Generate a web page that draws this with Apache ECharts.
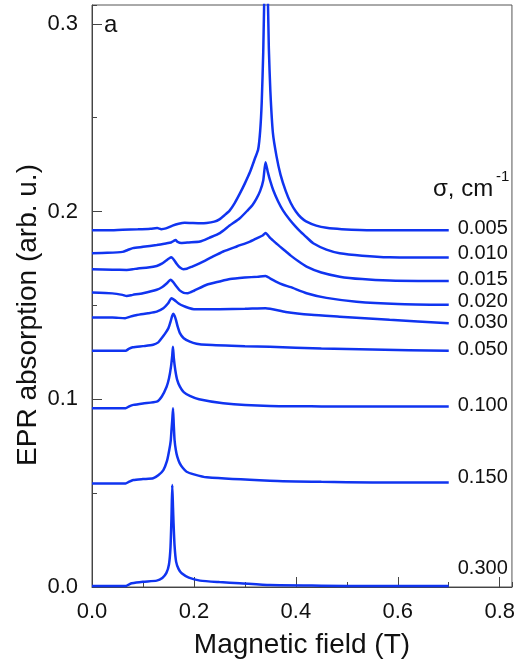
<!DOCTYPE html>
<html>
<head>
<meta charset="utf-8">
<script src="https://cdn.jsdelivr.net/npm/echarts@6/dist/echarts.min.js"></script>
<style>
html,body{margin:0;padding:0;background:#fff;}
#chart{width:518px;height:670px;}
</style>
</head>
<body>
<div id="chart"></div>
<script>
// sigma values (cm^-1) used as curve labels
const sigmaLabels = ['0.005','0.010','0.015','0.020','0.030','0.050','0.100','0.150','0.300'];

// Magnetic field (T) and EPR absorption (arb. u.) for each sigma
const field005 = [0,0.03,0.06,0.09,0.115,0.128,0.136,0.145,0.158,0.17,0.182,0.195,0.21,0.225,0.24,0.25,0.26,0.27,0.28,0.29,0.30,0.31,0.32,0.326,0.330,0.333,0.336,0.339,0.341,0.344,0.347,0.350,0.355,0.362,0.370,0.380,0.390,0.400,0.410,0.420,0.440,0.460,0.490,0.55,0.60,0.65,0.70];
const abs005   = [0.190,0.190,0.1903,0.1905,0.1908,0.1912,0.1906,0.191,0.1925,0.1935,0.194,0.1939,0.1938,0.1939,0.1946,0.1958,0.198,0.2005,0.2045,0.2095,0.215,0.221,0.2285,0.233,0.243,0.258,0.285,0.33,0.37,0.33,0.287,0.264,0.2417,0.2295,0.2195,0.211,0.2045,0.200,0.1968,0.1948,0.1925,0.1913,0.1906,0.190,0.190,0.190,0.190];

const field010 = [0,0.03,0.06,0.07,0.08,0.10,0.127,0.145,0.155,0.160,0.164,0.168,0.175,0.19,0.212,0.23,0.251,0.27,0.29,0.305,0.315,0.323,0.330,0.336,0.3405,0.345,0.350,0.3555,0.365,0.375,0.388,0.40,0.41,0.422,0.434,0.46,0.486,0.53,0.584,0.64,0.70];
const abs010   = [0.1778,0.178,0.1785,0.1795,0.1805,0.1812,0.1822,0.183,0.1835,0.1843,0.1848,0.1838,0.1832,0.1835,0.184,0.186,0.1885,0.1925,0.1964,0.2005,0.2035,0.207,0.211,0.2165,0.2263,0.221,0.216,0.2115,0.2055,0.2005,0.1956,0.1918,0.189,0.186,0.1831,0.1797,0.1778,0.1765,0.1756,0.1755,0.1755];

const field015 = [0,0.04,0.068,0.08,0.09,0.11,0.127,0.137,0.145,0.151,0.156,0.161,0.166,0.172,0.179,0.186,0.195,0.212,0.235,0.2575,0.285,0.31,0.325,0.335,0.3405,0.35,0.36,0.369,0.38,0.39,0.405,0.421,0.45,0.486,0.53,0.584,0.64,0.70];
const abs015   = [0.1693,0.169,0.1689,0.1692,0.1697,0.1702,0.171,0.1722,0.1738,0.175,0.1756,0.1742,0.1722,0.1703,0.1693,0.1695,0.1705,0.1725,0.1757,0.1787,0.1815,0.184,0.186,0.1872,0.1885,0.1858,0.1834,0.1813,0.1788,0.1765,0.1735,0.1707,0.1675,0.1653,0.164,0.1632,0.163,0.163];

const field020 = [0,0.04,0.06,0.068,0.08,0.10,0.127,0.138,0.147,0.154,0.159,0.165,0.172,0.18,0.188,0.20,0.225,0.25,0.271,0.30,0.325,0.3405,0.35,0.36,0.375,0.39,0.421,0.46,0.519,0.60,0.70];
const abs020   = [0.1568,0.1564,0.1556,0.155,0.1556,0.1565,0.1583,0.1598,0.1618,0.1636,0.1625,0.1603,0.158,0.1567,0.1565,0.1578,0.161,0.1627,0.164,0.1648,0.1653,0.1657,0.1643,0.1628,0.161,0.1597,0.1565,0.154,0.152,0.1508,0.1503];

const field030 = [0,0.04,0.065,0.075,0.088,0.11,0.127,0.14,0.149,0.156,0.162,0.17,0.179,0.19,0.2,0.25,0.30,0.3405,0.38,0.43,0.486,0.584,0.70];
const abs030   = [0.1435,0.1435,0.1432,0.144,0.1449,0.1458,0.1467,0.1485,0.151,0.1538,0.1528,0.151,0.1497,0.1486,0.148,0.148,0.1482,0.1485,0.1465,0.145,0.144,0.1423,0.1405];

const field050 = [0,0.04,0.066,0.072,0.08,0.10,0.12,0.13,0.1366,0.143,0.15,0.154,0.1575,0.1595,0.162,0.1647,0.168,0.1725,0.18,0.192,0.205,0.225,0.30,0.349,0.45,0.55,0.70];
const abs050   = [0.1258,0.1258,0.1258,0.1268,0.1277,0.1283,0.129,0.1303,0.1325,0.1348,0.1379,0.1412,0.1445,0.1455,0.1445,0.1423,0.1388,0.1352,0.1325,0.1307,0.1296,0.129,0.1283,0.128,0.127,0.1265,0.1258];

const field100 = [0,0.04,0.066,0.073,0.081,0.10,0.127,0.137,0.1464,0.151,0.155,0.1575,0.1588,0.1605,0.1634,0.167,0.1725,0.18,0.192,0.21,0.2575,0.349,0.45,0.55,0.70];
const abs100   = [0.0952,0.0952,0.0952,0.0962,0.097,0.0978,0.0987,0.1015,0.1067,0.111,0.1174,0.1235,0.128,0.122,0.1156,0.1105,0.1067,0.1038,0.1018,0.100,0.0979,0.0964,0.0962,0.0961,0.0961];

const field150 = [0,0.04,0.066,0.073,0.081,0.10,0.12,0.13,0.14,0.147,0.1516,0.1545,0.156,0.1575,0.159,0.1605,0.162,0.1645,0.1673,0.172,0.178,0.1856,0.20,0.225,0.349,0.45,0.55,0.70];
const abs150   = [0.0551,0.0551,0.0551,0.0561,0.057,0.0575,0.0579,0.0595,0.0623,0.067,0.073,0.078,0.0837,0.089,0.0952,0.086,0.0783,0.073,0.0694,0.066,0.0635,0.0614,0.060,0.0584,0.0566,0.056,0.0557,0.0556];

const field300 = [0,0.04,0.066,0.072,0.078,0.10,0.127,0.138,0.146,0.151,0.154,0.156,0.1575,0.159,0.160,0.162,0.165,0.17,0.176,0.19,0.212,0.25,0.29,0.349,0.45,0.55,0.70];
const abs300   = [0.0005,0.0005,0.0005,0.0013,0.002,0.0028,0.0034,0.0048,0.0075,0.012,0.021,0.0375,0.0543,0.042,0.034,0.022,0.0135,0.0095,0.0073,0.005,0.0034,0.0026,0.002,0.001,0.0007,0.0005,0.0005];

// axis tick values
const xTickStep = 0.2, xMinorStep = 0.1, xMin = 0, xMax = 0.824;
const yTickStep = 0.1, yMinorStep = 0.05, yMin = 0, yMax = 0.31;

const fields = [field005,field010,field015,field020,field030,field050,field100,field150,field300];
const absorbs = [abs005,abs010,abs015,abs020,abs030,abs050,abs100,abs150,abs300];
const labelDy = [-2,-4,-1,-3,-1,-1,-1,-5,-18];

const FONT = "'Liberation Sans', Arial, sans-serif";
const LINE = '#1034f0';
const AX = '#444';

const series = sigmaLabels.map((s, i) => ({
  name: s,
  type: 'line',
  xAxisIndex: 0,
  yAxisIndex: 0,
  data: fields[i].map((x, j) => [x, absorbs[i][j]]),
  showSymbol: false,
  symbol: 'none',
  smooth: 0.2,
  lineStyle: {color: LINE, width: 2.5},
  clip: true,
  endLabel: {
    show: true,
    formatter: s,
    color: '#111',
    fontSize: 20,
    fontFamily: FONT,
    distance: 9,
    offset: [0, labelDy[i]]
  }
}));

const chart = echarts.init(document.getElementById('chart'), null, {renderer: 'canvas'});
chart.setOption({
  animation: false,
  backgroundColor: '#fff',
  grid: {left: 92, right: 6, top: 5, bottom: 83, show: true, borderColor: '#555', borderWidth: 1, containLabel: false},
  xAxis: [
    {
      type: 'value', position: 'bottom', min: xMin, max: xMax, interval: xTickStep,
      axisLine: {show: true, lineStyle: {color: AX, width: 1}},
      axisTick: {show: true, inside: true, length: 10, lineStyle: {color: AX}},
      axisLabel: {show: true, showMaxLabel: false, margin: 14, color: '#111', fontSize: 22, fontFamily: FONT,
        formatter: v => v.toFixed(1)},
      splitLine: {show: false},
      name: 'Magnetic field (T)', nameLocation: 'middle', nameGap: 44,
      nameTextStyle: {color: '#111', fontSize: 28, fontFamily: FONT}
    },
    {
      type: 'value', position: 'bottom', min: xMin, max: xMax, interval: xMinorStep,
      axisLine: {show: false},
      axisTick: {show: true, inside: true, length: 5, lineStyle: {color: AX}},
      axisLabel: {show: false},
      splitLine: {show: false}
    }
  ],
  yAxis: [
    {
      type: 'value', position: 'left', min: yMin, max: yMax, interval: yTickStep,
      axisLine: {show: true, lineStyle: {color: AX, width: 1}},
      axisTick: {show: true, inside: true, length: 10, lineStyle: {color: AX}},
      axisLabel: {show: true, showMaxLabel: false, margin: 14, color: '#111', fontSize: 22, fontFamily: FONT,
        formatter: v => v.toFixed(1)},
      splitLine: {show: false}
    },
    {
      type: 'value', position: 'left', min: yMin, max: yMax, interval: yMinorStep,
      axisLine: {show: false},
      axisTick: {show: true, inside: true, length: 5, lineStyle: {color: AX}},
      axisLabel: {show: false},
      splitLine: {show: false}
    }
  ],
  graphic: [
    {type: 'text', style: {text: 'EPR absorption (arb. u.)', x: 0, y: 0, fill: '#111', fontSize: 28, fontFamily: FONT, align: 'center', verticalAlign: 'middle'},
      x: 28, y: 315, rotation: Math.PI / 2},
    {type: 'text', style: {text: 'a', x: 104, y: 25, fill: '#111', fontSize: 24, fontFamily: FONT, align: 'left', verticalAlign: 'middle'}},
    {type: 'text', style: {text: 'σ, cm', x: 433, y: 189, fill: '#111', fontSize: 24, fontFamily: FONT, align: 'left', verticalAlign: 'middle'}},
    {type: 'text', style: {text: '-1', x: 496, y: 177, fill: '#111', fontSize: 15, fontFamily: FONT, align: 'left', verticalAlign: 'middle'}}
  ],
  series: series
});
</script>
</body>
</html>
